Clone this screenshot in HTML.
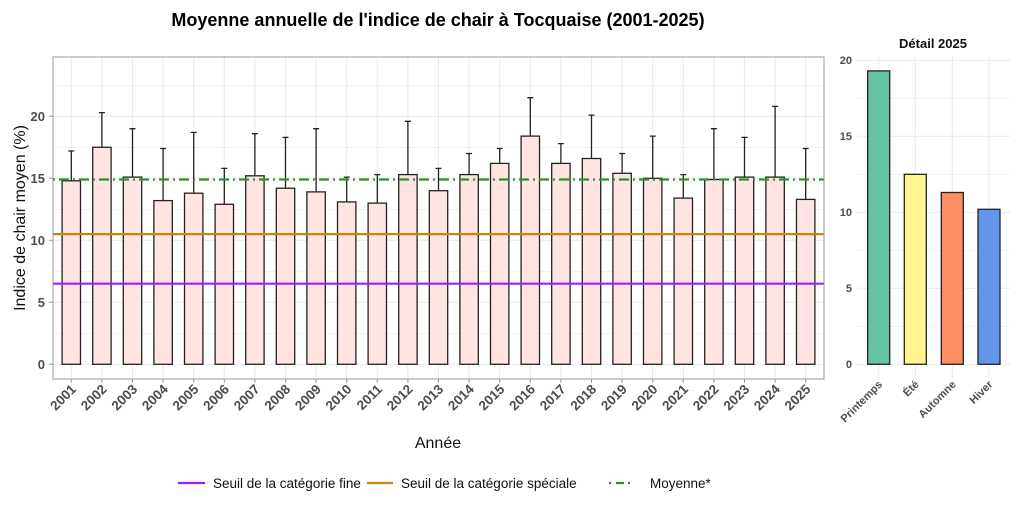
<!DOCTYPE html>
<html><head><meta charset="utf-8"><style>body{margin:0;background:#fff}svg{display:block}text{font-family:"Liberation Sans",sans-serif}</style></head><body>
<svg width="1024" height="512" viewBox="0 0 1024 512" xmlns="http://www.w3.org/2000/svg">
<rect width="1024" height="512" fill="#fff"/>
<text x="438" y="26" font-size="18" font-weight="bold" text-anchor="middle" fill="#000">Moyenne annuelle de l'indice de chair à Tocquaise (2001-2025)</text>
<g stroke="#ebebeb" stroke-width="0.6">
<line x1="53" x2="824" y1="333.3" y2="333.3"/><line x1="53" x2="824" y1="271.3" y2="271.3"/><line x1="53" x2="824" y1="209.3" y2="209.3"/><line x1="53" x2="824" y1="147.3" y2="147.3"/><line x1="53" x2="824" y1="85.3" y2="85.3"/>
</g>
<g stroke="#ebebeb" stroke-width="1.1">
<line x1="53" x2="824" y1="364.3" y2="364.3"/><line x1="53" x2="824" y1="302.3" y2="302.3"/><line x1="53" x2="824" y1="240.3" y2="240.3"/><line x1="53" x2="824" y1="178.3" y2="178.3"/><line x1="53" x2="824" y1="116.3" y2="116.3"/>
<line x1="71.3" x2="71.3" y1="57" y2="379"/><line x1="101.9" x2="101.9" y1="57" y2="379"/><line x1="132.5" x2="132.5" y1="57" y2="379"/><line x1="163.1" x2="163.1" y1="57" y2="379"/><line x1="193.7" x2="193.7" y1="57" y2="379"/><line x1="224.3" x2="224.3" y1="57" y2="379"/><line x1="254.9" x2="254.9" y1="57" y2="379"/><line x1="285.5" x2="285.5" y1="57" y2="379"/><line x1="316.1" x2="316.1" y1="57" y2="379"/><line x1="346.7" x2="346.7" y1="57" y2="379"/><line x1="377.3" x2="377.3" y1="57" y2="379"/><line x1="407.9" x2="407.9" y1="57" y2="379"/><line x1="438.5" x2="438.5" y1="57" y2="379"/><line x1="469.1" x2="469.1" y1="57" y2="379"/><line x1="499.7" x2="499.7" y1="57" y2="379"/><line x1="530.3" x2="530.3" y1="57" y2="379"/><line x1="560.9" x2="560.9" y1="57" y2="379"/><line x1="591.5" x2="591.5" y1="57" y2="379"/><line x1="622.1" x2="622.1" y1="57" y2="379"/><line x1="652.7" x2="652.7" y1="57" y2="379"/><line x1="683.3" x2="683.3" y1="57" y2="379"/><line x1="713.9" x2="713.9" y1="57" y2="379"/><line x1="744.5" x2="744.5" y1="57" y2="379"/><line x1="775.1" x2="775.1" y1="57" y2="379"/><line x1="805.7" x2="805.7" y1="57" y2="379"/>
</g>
<g stroke="#222" stroke-width="1.3">
<path d="M71.3 180.8V151M68.3 151h6"/><path d="M101.9 147.3V112.6M98.9 112.6h6"/><path d="M132.5 177.1V128.7M129.5 128.7h6"/><path d="M163.1 200.6V148.5M160.1 148.5h6"/><path d="M193.7 193.2V132.4M190.7 132.4h6"/><path d="M224.3 204.3V168.4M221.3 168.4h6"/><path d="M254.9 175.8V133.7M251.9 133.7h6"/><path d="M285.5 188.2V137.4M282.5 137.4h6"/><path d="M316.1 191.9V128.7M313.1 128.7h6"/><path d="M346.7 201.9V177.1M343.7 177.1h6"/><path d="M377.3 203.1V174.6M374.3 174.6h6"/><path d="M407.9 174.6V121.3M404.9 121.3h6"/><path d="M438.5 190.7V168.4M435.5 168.4h6"/><path d="M469.1 174.6V153.5M466.1 153.5h6"/><path d="M499.7 163.4V148.5M496.7 148.5h6"/><path d="M530.3 136.1V97.7M527.3 97.7h6"/><path d="M560.9 163.4V143.6M557.9 143.6h6"/><path d="M591.5 158.5V115.1M588.5 115.1h6"/><path d="M622.1 173.3V153.5M619.1 153.5h6"/><path d="M652.7 178.3V136.1M649.7 136.1h6"/><path d="M683.3 198.1V174.6M680.3 174.6h6"/><path d="M713.9 179.5V128.7M710.9 128.7h6"/><path d="M744.5 177.1V137.4M741.5 137.4h6"/><path d="M775.1 177.1V106.4M772.1 106.4h6"/><path d="M805.7 199.4V148.5M802.7 148.5h6"/>
</g>
<g fill="#ffe4e1" stroke="#222" stroke-width="1.3">
<rect x="62.1" y="180.8" width="18.4" height="183.5"/><rect x="92.7" y="147.3" width="18.4" height="217"/><rect x="123.3" y="177.1" width="18.4" height="187.2"/><rect x="153.9" y="200.6" width="18.4" height="163.7"/><rect x="184.5" y="193.2" width="18.4" height="171.1"/><rect x="215.1" y="204.3" width="18.4" height="160"/><rect x="245.7" y="175.8" width="18.4" height="188.5"/><rect x="276.3" y="188.2" width="18.4" height="176.1"/><rect x="306.9" y="191.9" width="18.4" height="172.4"/><rect x="337.5" y="201.9" width="18.4" height="162.4"/><rect x="368.1" y="203.1" width="18.4" height="161.2"/><rect x="398.7" y="174.6" width="18.4" height="189.7"/><rect x="429.3" y="190.7" width="18.4" height="173.6"/><rect x="459.9" y="174.6" width="18.4" height="189.7"/><rect x="490.5" y="163.4" width="18.4" height="200.9"/><rect x="521.1" y="136.1" width="18.4" height="228.2"/><rect x="551.7" y="163.4" width="18.4" height="200.9"/><rect x="582.3" y="158.5" width="18.4" height="205.8"/><rect x="612.9" y="173.3" width="18.4" height="191"/><rect x="643.5" y="178.3" width="18.4" height="186"/><rect x="674.1" y="198.1" width="18.4" height="166.2"/><rect x="704.7" y="179.5" width="18.4" height="184.8"/><rect x="735.3" y="177.1" width="18.4" height="187.2"/><rect x="765.9" y="177.1" width="18.4" height="187.2"/><rect x="796.5" y="199.4" width="18.4" height="164.9"/>
</g>
<line x1="53" x2="824" y1="283.7" y2="283.7" stroke="#a020f0" stroke-width="2.2"/>
<line x1="53" x2="824" y1="234.1" y2="234.1" stroke="#c8860a" stroke-width="2.2"/>
<line x1="53" x2="824" y1="179.5" y2="179.5" stroke="#229922" stroke-width="2.2" stroke-dasharray="2 4 10 4"/>
<rect x="53" y="57" width="771" height="322" fill="none" stroke="#999" stroke-width="1"/>
<g font-size="13" font-weight="bold" fill="#4d4d4d" text-anchor="end">
<text x="45" y="369">0</text><text x="45" y="307">5</text><text x="45" y="245">10</text><text x="45" y="183">15</text><text x="45" y="121">20</text>
</g>
<g stroke="#999"><path d="M49 364.3h4M49 302.3h4M49 240.3h4M49 178.3h4M49 116.3h4"/></g>
<text transform="translate(25,218) rotate(-90)" font-size="16" text-anchor="middle" fill="#111">Indice de chair moyen (%)</text>
<g stroke="#999"><path d="M71.3 379v4M101.9 379v4M132.5 379v4M163.1 379v4M193.7 379v4M224.3 379v4M254.9 379v4M285.5 379v4M316.1 379v4M346.7 379v4M377.3 379v4M407.9 379v4M438.5 379v4M469.1 379v4M499.7 379v4M530.3 379v4M560.9 379v4M591.5 379v4M622.1 379v4M652.7 379v4M683.3 379v4M713.9 379v4M744.5 379v4M775.1 379v4M805.7 379v4"/></g>
<g font-size="13.5" font-weight="bold" fill="#4d4d4d" text-anchor="end">
<text transform="translate(77,390) rotate(-45)">2001</text><text transform="translate(107.6,390) rotate(-45)">2002</text><text transform="translate(138.2,390) rotate(-45)">2003</text><text transform="translate(168.8,390) rotate(-45)">2004</text><text transform="translate(199.4,390) rotate(-45)">2005</text><text transform="translate(230,390) rotate(-45)">2006</text><text transform="translate(260.6,390) rotate(-45)">2007</text><text transform="translate(291.2,390) rotate(-45)">2008</text><text transform="translate(321.8,390) rotate(-45)">2009</text><text transform="translate(352.4,390) rotate(-45)">2010</text><text transform="translate(383,390) rotate(-45)">2011</text><text transform="translate(413.6,390) rotate(-45)">2012</text><text transform="translate(444.2,390) rotate(-45)">2013</text><text transform="translate(474.8,390) rotate(-45)">2014</text><text transform="translate(505.4,390) rotate(-45)">2015</text><text transform="translate(536,390) rotate(-45)">2016</text><text transform="translate(566.6,390) rotate(-45)">2017</text><text transform="translate(597.2,390) rotate(-45)">2018</text><text transform="translate(627.8,390) rotate(-45)">2019</text><text transform="translate(658.4,390) rotate(-45)">2020</text><text transform="translate(689,390) rotate(-45)">2021</text><text transform="translate(719.6,390) rotate(-45)">2022</text><text transform="translate(750.2,390) rotate(-45)">2023</text><text transform="translate(780.8,390) rotate(-45)">2024</text><text transform="translate(811.4,390) rotate(-45)">2025</text>
</g>
<text x="438" y="448" font-size="16" text-anchor="middle" fill="#111">Année</text>
<line x1="178" x2="205" y1="483" y2="483" stroke="#a020f0" stroke-width="2.2"/>
<text x="213" y="488" font-size="13.5" fill="#111">Seuil de la catégorie fine</text>
<line x1="367" x2="393" y1="483" y2="483" stroke="#c8860a" stroke-width="2.2"/>
<text x="401" y="488" font-size="13.5" fill="#111">Seuil de la catégorie spéciale</text>
<line x1="609" x2="632" y1="483" y2="483" stroke="#229922" stroke-width="2.2" stroke-dasharray="2 5 8 4"/>
<text x="650" y="488" font-size="13.5" fill="#111">Moyenne*</text>
<text x="933" y="48" font-size="13" font-weight="bold" text-anchor="middle" fill="#111">Détail 2025</text>
<g stroke="#ebebeb" stroke-width="0.6">
<line x1="857" x2="1010" y1="326.3" y2="326.3"/><line x1="857" x2="1010" y1="250.3" y2="250.3"/><line x1="857" x2="1010" y1="174.3" y2="174.3"/><line x1="857" x2="1010" y1="98.3" y2="98.3"/>
</g>
<g stroke="#ebebeb" stroke-width="1.1">
<line x1="857" x2="1010" y1="364.3" y2="364.3"/><line x1="857" x2="1010" y1="288.3" y2="288.3"/><line x1="857" x2="1010" y1="212.3" y2="212.3"/><line x1="857" x2="1010" y1="136.3" y2="136.3"/><line x1="857" x2="1010" y1="60.3" y2="60.3"/>
<line x1="878.7" x2="878.7" y1="57" y2="378"/><line x1="915.3" x2="915.3" y1="57" y2="378"/><line x1="952.3" x2="952.3" y1="57" y2="378"/><line x1="989" x2="989" y1="57" y2="378"/>
</g>
<g stroke="#222" stroke-width="1.3">
<rect x="867.7" y="70.9" width="22" height="293.4" fill="#66c2a5"/>
<rect x="904.3" y="174.3" width="22" height="190" fill="#fff68f"/>
<rect x="941.3" y="192.5" width="22" height="171.8" fill="#fc8d62"/>
<rect x="978" y="209.3" width="22" height="155" fill="#6495ed"/>
</g>
<g font-size="11" font-weight="bold" fill="#4d4d4d" text-anchor="end">
<text x="852" y="368">0</text><text x="852" y="292">5</text><text x="852" y="216">10</text><text x="852" y="140">15</text><text x="852" y="64">20</text>
</g>
<g font-size="11" font-weight="bold" fill="#4d4d4d" text-anchor="end">
<text transform="translate(883,385) rotate(-45)">Printemps</text><text transform="translate(919.6,385) rotate(-45)">Été</text><text transform="translate(956.6,385) rotate(-45)">Automne</text><text transform="translate(993.3,385) rotate(-45)">Hiver</text>
</g>
</svg>
</body></html>
